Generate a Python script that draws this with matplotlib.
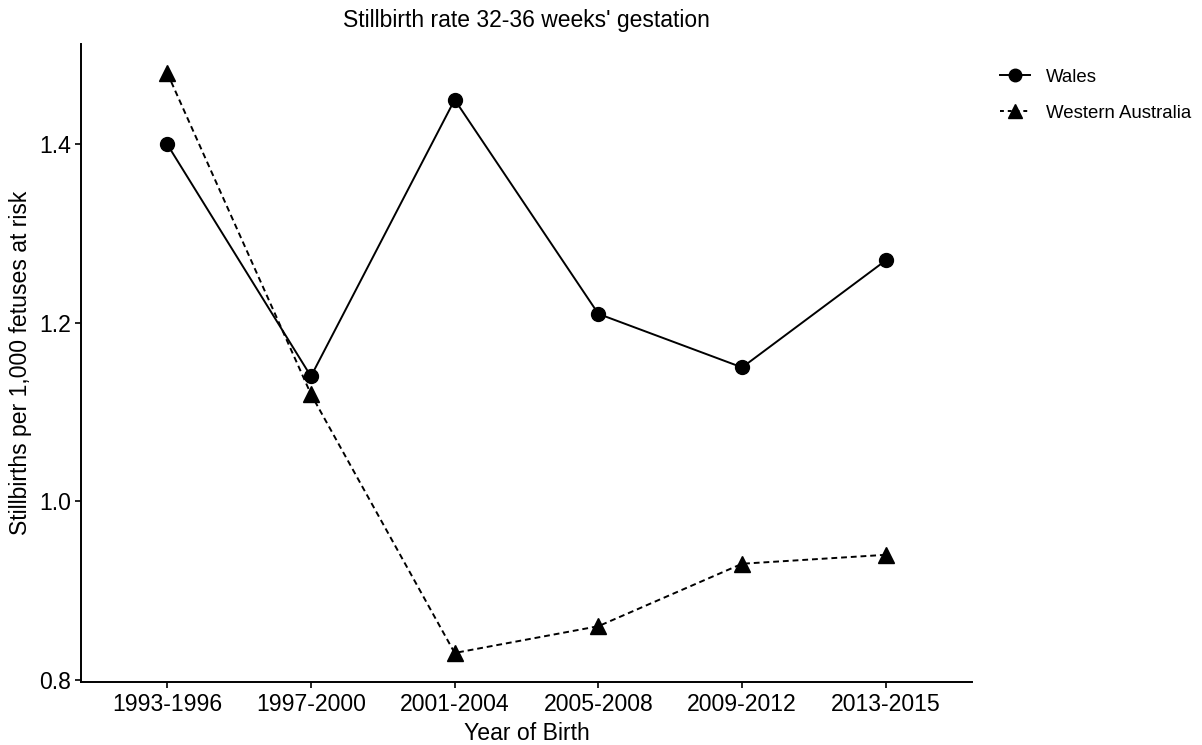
import numpy as np
import matplotlib
matplotlib.use('Agg')
import matplotlib.pyplot as plt
from matplotlib.lines import Line2D

plt.rcParams['font.family'] = ['Liberation Sans', 'DejaVu Sans']

## data
periods = ['1993-1996', '1997-2000', '2001-2004', '2005-2008', '2009-2012', '2013-2015']
wales = [1.40, 1.14, 1.45, 1.21, 1.15, 1.27]
western_australia = [1.48, 1.12, 0.83, 0.86, 0.93, 0.94]
y_ticks = [0.8, 1.0, 1.2, 1.4]

fig = plt.figure(figsize=(12.02, 7.45), dpi=100)
ax = fig.add_axes([0.0674, 0.0846, 0.7413, 0.8564])

x = np.arange(len(periods))
ax.plot(x, wales, color='black', linestyle='-', linewidth=1.4,
        marker='o', markersize=10, label='Wales')
ax.plot(x, western_australia, color='black', linestyle=(0, (3, 2)), linewidth=1.4,
        marker='^', markersize=11, label='Western Australia')

## ggplot style expansion
ax.set_xlim(-0.6, len(periods) - 1 + 0.6)
lo, hi = min(wales + western_australia), max(wales + western_australia)
pad = (hi - lo) * 0.05
ax.set_ylim(lo - pad, hi + pad)

ax.set_xticks(x)
ax.set_xticklabels(periods)
ax.set_yticks(y_ticks)
ax.set_yticklabels(['%.1f' % v for v in y_ticks])
ax.tick_params(axis='both', labelsize=16.6, length=4, width=1.2, color='black')
ax.tick_params(axis='x', pad=4)
ax.tick_params(axis='y', pad=3)

for side in ['top', 'right']:
    ax.spines[side].set_visible(False)
for side in ['left', 'bottom']:
    ax.spines[side].set_linewidth(1.4)

ax.set_xlabel('Year of Birth', fontsize=16.6, labelpad=4)
ax.set_ylabel('Stillbirths per 1,000 fetuses at risk', fontsize=16.6, labelpad=5)
fig.text(0.438, 0.972, "Stillbirth rate 32-36 weeks' gestation", fontsize=16.5,
         ha='center', va='center')

handles = [
    Line2D([], [], color='black', linestyle='-', linewidth=1.4, marker='o', markersize=9),
    Line2D([], [], color='black', linestyle=(0, (2, 2)), linewidth=1.4, marker='^', markersize=10),
]
fig.legend(handles, ['Wales', 'Western Australia'], loc='upper left',
           bbox_to_anchor=(0.818, 0.93), frameon=False, fontsize=13.4,
           handlelength=1.6, handletextpad=0.85, labelspacing=1.0)

fig.savefig('out.png', dpi=100)
